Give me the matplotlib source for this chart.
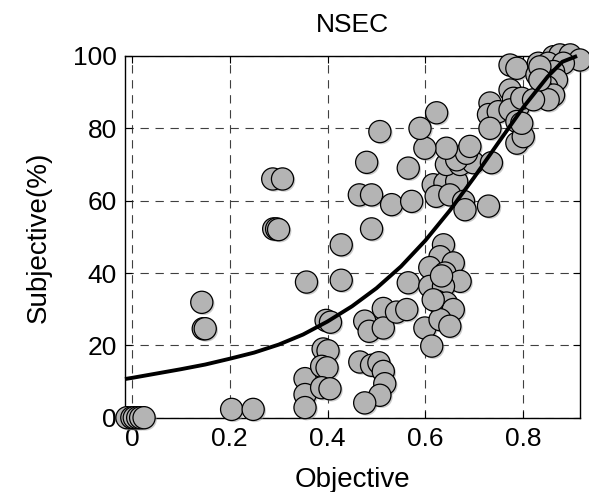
import matplotlib
matplotlib.use("Agg")
import matplotlib.pyplot as plt
import matplotlib.patheffects as pe

plt.rcParams['font.family'] = ['Liberation Sans', 'DejaVu Sans']

# Scatter data (Objective, Subjective %)
obj_x = [-0.01, 0.0, 0.005, 0.012, 0.018, 0.025,
         0.143, 0.146, 0.15,
         0.204, 0.248,
         0.288, 0.308,
         0.29, 0.296, 0.30,
         0.354, 0.354, 0.354, 0.357,
         0.391, 0.401, 0.388, 0.399, 0.388, 0.405, 0.397, 0.406,
         0.428, 0.428,
         0.466, 0.49, 0.505, 0.514, 0.517, 0.507, 0.476,
         0.476, 0.485, 0.514, 0.514, 0.541, 0.562,
         0.49, 0.465, 0.49, 0.531, 0.572, 0.48, 0.565, 0.507,
         0.565, 0.599, 0.613,
         0.637, 0.63, 0.657, 0.609, 0.64, 0.671, 0.609, 0.637, 0.623, 0.643,
         0.657, 0.63, 0.65, 0.616, 0.633,
         0.616, 0.64, 0.664, 0.622, 0.65, 0.678, 0.681, 0.729,
         0.643, 0.671, 0.698, 0.735, 0.664, 0.684, 0.691, 0.643, 0.599, 0.589, 0.623,
         0.732, 0.729, 0.749, 0.732, 0.773, 0.787, 0.773, 0.78, 0.787, 0.79,
         0.773, 0.787, 0.80, 0.797, 0.797,
         0.831, 0.862, 0.875, 0.896, 0.916, 0.851, 0.882, 0.862, 0.828, 0.868,
         0.848, 0.841, 0.862, 0.851, 0.821, 0.834, 0.834]
subj_y = [0, 0, 0, 0, 0, 0,
          31.9, 24.6, 24.6,
          2.3, 2.3,
          66.0, 66.0,
          52.2, 52.2, 52.0,
          10.8, 6.4, 2.8, 37.5,
          19.0, 18.5, 14.2, 13.8, 8.3, 8.0, 26.9, 26.4,
          47.8, 38.0,
          15.4, 14.5, 15.2, 12.8, 9.4, 6.2, 4.1,
          26.7, 23.9, 30.2, 24.8, 29.2, 29.9,
          52.2, 61.6, 61.6, 58.9, 59.8, 70.6, 69.0, 79.1,
          37.3, 24.8, 19.8,
          47.8, 44.5, 42.8, 41.5, 40.0, 37.7, 36.3, 36.3, 32.2, 31.7,
          29.9, 27.1, 25.3, 32.6, 39.2,
          64.4, 64.9, 65.3, 61.2, 61.6, 59.8, 57.5, 58.5,
          70.0, 70.0, 70.5, 70.5, 71.3, 73.1, 75.0, 74.5, 74.5, 80.0, 84.3,
          87.0, 83.8, 84.6, 80.0, 97.5, 96.6, 90.6, 88.3, 75.9, 86.0,
          85.1, 81.9, 77.7, 81.4, 88.3,
          98.0, 99.8, 100.3, 100.3, 98.9, 98.0, 98.0, 95.7, 94.8, 93.4,
          91.5, 90.2, 89.2, 87.9, 87.9, 97.0, 93.4]

# Fitted curve
fit_x = [-0.014, 0, 0.05, 0.1, 0.15, 0.2, 0.25, 0.3, 0.35, 0.4, 0.45, 0.5,
         0.55, 0.6, 0.65, 0.7, 0.75, 0.8, 0.85, 0.88, 0.91]
fit_y = [10.7, 11.0, 12.2, 13.4, 14.7, 16.3, 18.0, 20.2, 23.0, 26.6, 30.8, 35.8,
         41.8, 49.0, 57.3, 66.5, 76.2, 85.8, 94.3, 98.4, 100.0]

x_ticks = [0, 0.2, 0.4, 0.6, 0.8]
x_ticklabels = ['0', '0.2', '0.4', '0.6', '0.8']
y_ticks = [0, 20, 40, 60, 80, 100]
y_ticklabels = ['0', '20', '40', '60', '80', '100']

fig = plt.figure(figsize=(5.89, 4.92), dpi=100)
ax = fig.add_axes([0.2122, 0.1510, 0.7725, 0.7352])

ax.scatter(obj_x, subj_y, s=255, facecolor='#b4b4b4', edgecolor='black',
           linewidths=0.9, zorder=3, clip_on=False,
           path_effects=[pe.SimplePatchShadow(offset=(1.2, -1.2), shadow_rgbFace='0.6', alpha=0.5),
                         pe.Normal()])
ax.plot(fit_x, fit_y, color='black', lw=2.8, zorder=4, clip_on=False,
        solid_capstyle='butt', solid_joinstyle='round')

ax.set_xlim(-0.014, 0.916)
ax.set_ylim(0, 100)
ax.set_xticks(x_ticks)
ax.set_xticklabels(x_ticklabels)
ax.set_yticks(y_ticks)
ax.set_yticklabels(y_ticklabels)
ax.tick_params(direction='in', top=True, right=True, length=5, width=0.8,
               labelsize=19)
ax.tick_params(axis='x', pad=7)
ax.tick_params(axis='y', pad=6)
ax.grid(True, color='0.25', linestyle=(0, (7.5, 6)), linewidth=0.8, zorder=0)
ax.set_axisbelow(True)
for sp in ax.spines.values():
    sp.set_linewidth(1.0)

ax.set_title('NSEC', fontsize=19, pad=17)
ax.set_xlabel('Objective', fontsize=20, labelpad=11)
ax.set_ylabel('Subjective(%)', fontsize=20, labelpad=15)

fig.savefig('out.png', dpi=100)
